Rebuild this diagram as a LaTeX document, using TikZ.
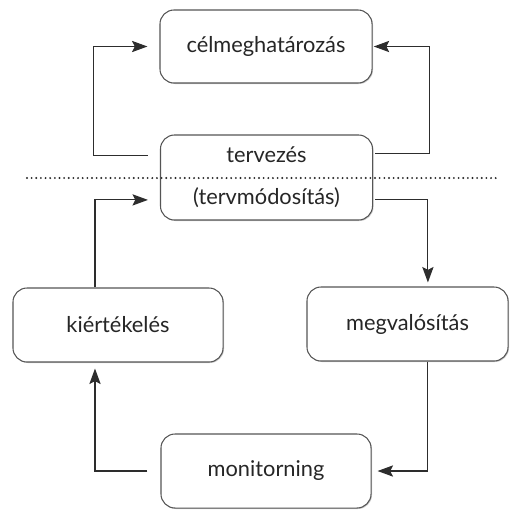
\documentclass[tikz,border=0pt]{standalone}
\usepackage{fontspec}
\setmainfont{Lato}
\usepackage{tikz}
\usetikzlibrary{arrows.meta, positioning, shadows}
\definecolor{boxgray}{RGB}{85, 85, 85}
\definecolor{linegray}{RGB}{45, 45, 45}

\begin{document}
\begin{tikzpicture}[
        x=0.025cm, y=-0.025cm,
        phase/.style={rectangle, draw=boxgray, fill=white, line width=0.75pt, rounded corners=10pt, minimum width=5.3cm, minimum height=1.85cm, align=center, font=\fontsize{15.5}{18}\selectfont, text=black!85, drop shadow={shadow xshift=0.7pt, shadow yshift=-0.7pt, opacity=0.4}},
        arrow/.style={-{Stealth[length=11pt, width=8pt, inset=2pt]}, line width=0.8pt, draw=linegray},
        sep/.style={line width=1.5pt, dash pattern=on 0pt off 3.3pt, line cap=round, draw=black!85}
    ]
        \useasboundingbox (0,0) rectangle (510,509);

        % Upper part
        \node (celmeg) [phase, minimum height=1.825cm] at (266,46.5) {célmeghatározás};
        \node (tervezes) [phase, minimum height=2.125cm] at (266.5,177.5) {tervezés\\[12pt](tervmódosítás)};

        % Lower part
        \node (kiert) [phase, minimum width=5.25cm] at (118,325) {kiértékelés};
        \node (megval) [phase, minimum width=5.025cm] at (407.5,324) {megvalósítás};
        \node (monitor) [phase, minimum width=5.25cm] at (266,471) {monitorning};

        % Separator
        \coordinate (sepL) at (27,178);
        \coordinate (sepR) at (497,178);
        \draw [sep] (sepL) -- (sepR);

        % Connecting Arrows
        \draw [arrow] ([xshift=-3mm, yshift=5.6mm]tervezes.west) -- ++(-1.35cm,0) |- ([xshift=-3mm]celmeg.west);
        \draw [arrow] ([xshift=0.5mm, yshift=6mm]tervezes.east) -- ++(1.35cm,0) |- ([xshift=0.3mm]celmeg.east);
        \draw [arrow] ([xshift=-5.75mm]kiert.north) |- ([xshift=-3mm, yshift=-5.6mm]tervezes.west);
        \draw [arrow] ([xshift=0.5mm, yshift=-5.6mm]tervezes.east) -| ([xshift=5.1mm, yshift=1mm]megval.north);
        \draw [arrow] ([xshift=5.1mm]megval.south) |- ([xshift=1.5mm]monitor.east);
        \draw [arrow] ([xshift=-3.25mm]monitor.west) -| ([xshift=-5.75mm, yshift=-1.5mm]kiert.south);
    \end{tikzpicture}
\end{document}
